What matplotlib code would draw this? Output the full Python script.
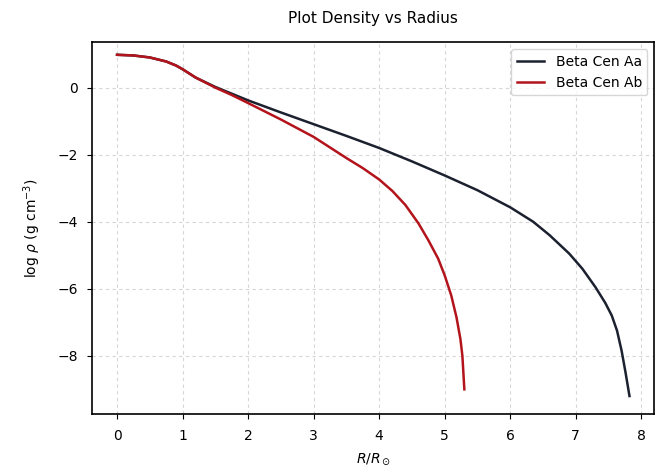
import numpy as np
import matplotlib
matplotlib.use('Agg')
import matplotlib.pyplot as plt

# Beta Cen Aa density profile
r_aa = [0.0, 0.25, 0.5, 0.75, 0.9, 1.0, 1.2, 1.5, 1.75, 2.0, 2.5, 3.0, 3.5, 4.0,
        4.5, 5.0, 5.5, 6.0, 6.35, 6.6, 6.9, 7.1, 7.3, 7.45, 7.55, 7.63,
        7.7, 7.76, 7.82]
rho_aa = [0.98, 0.96, 0.9, 0.78, 0.66, 0.55, 0.3, 0.02, -0.18, -0.38, -0.74,
          -1.09, -1.44, -1.8, -2.2, -2.62, -3.06, -3.57, -4.0, -4.4,
          -4.95, -5.4, -5.95, -6.42, -6.8, -7.25, -7.85, -8.5, -9.2]

# Beta Cen Ab density profile
r_ab = [0.0, 0.25, 0.5, 0.75, 0.9, 1.0, 1.2, 1.5, 1.75, 2.0, 2.5, 3.0, 3.5,
        3.75, 4.0, 4.2, 4.4, 4.6, 4.75, 4.9, 5.0, 5.1, 5.18, 5.24, 5.27, 5.3]
rho_ab = [0.98, 0.96, 0.9, 0.78, 0.66, 0.55, 0.3, 0.0, -0.22, -0.46, -0.95,
          -1.47, -2.1, -2.4, -2.74, -3.08, -3.5, -4.05, -4.55, -5.1, -5.6,
          -6.2, -6.85, -7.5, -8.0, -9.0]

fig = plt.figure(figsize=(6.63, 4.71), dpi=100)
ax = fig.add_axes([0.139, 0.12, 0.848, 0.79])

ax.plot(r_aa, rho_aa, color='#1c2130', lw=1.8, label='Beta Cen Aa')
ax.plot(r_ab, rho_ab, color='#b3141c', lw=1.8, label='Beta Cen Ab')

ax.set_xlim(-0.38, 8.2)
ax.set_ylim(-9.75, 1.35)
ax.set_xticks(range(0, 9))
ax.set_yticks([0, -2, -4, -6, -8])
ax.tick_params(labelsize=10, pad=7)
ax.grid(True, linestyle=(0, (3, 3)), color='#d6d6d6', lw=0.8)

ax.set_title('Plot Density vs Radius', fontsize=11, pad=14)
ax.set_xlabel(r'$R/R_\odot$', fontsize=10, labelpad=6)
ax.set_ylabel(r'log $\rho$ (g cm$^{-3}$)', fontsize=10, labelpad=10)
ax.legend(loc='upper right', fontsize=10)

for s in ax.spines.values():
    s.set_linewidth(1.2)

fig.savefig('out.png', dpi=100)
